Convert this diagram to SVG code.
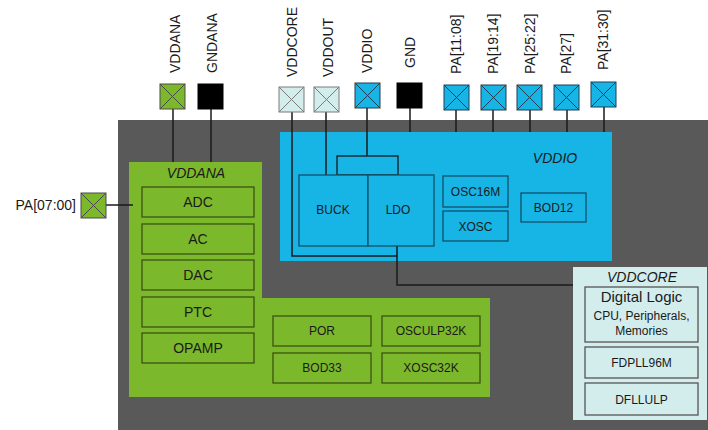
<svg xmlns="http://www.w3.org/2000/svg" width="708" height="430" viewBox="0 0 708 430">
<style>
text{font-family:"Liberation Sans",Arial,sans-serif;fill:#1a1a1a}
.lbl{font-size:14px}
.ital{font-size:14px;font-style:italic;text-anchor:middle}
.bx{font-size:12px;text-anchor:middle}
.bg{font-size:14px;text-anchor:middle}
.gbox{fill:#7cb82b;stroke:#3a5512;stroke-width:1.3}
.bbox{fill:#17b4e6;stroke:#12506b;stroke-width:1.3}
.cbox{fill:#d3ecec;stroke:#555;stroke-width:1.3}
.wire{fill:none;stroke:#1a1a1a;stroke-width:1.5}
</style>
<defs>
<g id="xg"><rect x="0" y="0" width="25" height="25"/><path d="M0,0L25,25M25,0L0,25" fill="none"/></g>
</defs>
<rect id="chip" x="118" y="120" width="590" height="310" fill="#595959"/>

<g id="vddana-domain">
<path d="M129,162H262V298H490V397H129Z" fill="#7cb82b"/>
<text class="ital" x="196" y="178">VDDANA</text>
</g>
<g id="vddio-domain">
<rect x="280" y="132" width="332" height="129" fill="#17b4e6"/>
<text class="ital" x="555" y="163">VDDIO</text>
</g>
<g id="vddcore-domain">
<rect x="573" y="267" width="134" height="153" fill="#d3ecec"/>
<text class="ital" x="642" y="282">VDDCORE</text>
</g>

<g id="connectors" class="wire">
<path d="M173,109V162"/>
<path d="M211,109V162"/>
<path d="M292,112V256H397"/>
<path d="M326,112V175"/>
<path d="M367,108V156"/>
<path d="M410,108V132"/>
<path d="M456,110V132"/>
<path d="M493,110V132"/>
<path d="M530,110V132"/>
<path d="M567,110V132"/>
<path d="M604,107V132"/>
<path d="M106,205H133"/>
<path d="M397,246V285H573"/>
</g>

<g id="adc"><rect class="gbox" x="142" y="187" width="112" height="30"/><text class="bg" x="198" y="207">ADC</text></g>
<g id="ac"><rect class="gbox" x="142" y="224" width="112" height="30"/><text class="bg" x="198" y="244">AC</text></g>
<g id="dac"><rect class="gbox" x="142" y="260" width="112" height="30"/><text class="bg" x="198" y="280">DAC</text></g>
<g id="ptc"><rect class="gbox" x="142" y="297" width="112" height="30"/><text class="bg" x="198" y="317">PTC</text></g>
<g id="opamp"><rect class="gbox" x="142" y="333" width="112" height="30"/><text class="bg" x="198" y="353">OPAMP</text></g>
<g id="por"><rect class="gbox" x="273" y="316" width="98" height="30"/><text class="bx" x="322" y="335">POR</text></g>
<g id="osculp32k"><rect class="gbox" x="382" y="316" width="98" height="30"/><text class="bx" x="431" y="335">OSCULP32K</text></g>
<g id="bod33"><rect class="gbox" x="273" y="353" width="98" height="30"/><text class="bx" x="322" y="372">BOD33</text></g>
<g id="xosc32k"><rect class="gbox" x="382" y="353" width="98" height="30"/><text class="bx" x="431" y="372">XOSC32K</text></g>

<g id="reg-link"><rect x="337" y="156" width="61" height="19" fill="none" stroke="#1a1a1a" stroke-width="1.3"/></g>
<g id="buck"><rect class="bbox" x="299" y="175" width="69" height="71"/><text class="bx" x="333" y="214">BUCK</text></g>
<g id="ldo"><rect class="bbox" x="368" y="175" width="66" height="71"/><text class="bx" x="398" y="214">LDO</text></g>
<g id="osc16m"><rect class="bbox" x="443" y="176" width="65" height="31"/><text class="bx" x="475.5" y="196">OSC16M</text></g>
<g id="xosc"><rect class="bbox" x="443" y="211" width="65" height="30"/><text class="bx" x="475.5" y="231">XOSC</text></g>
<g id="bod12"><rect class="bbox" x="521" y="193" width="65" height="29"/><text class="bx" x="553.5" y="212">BOD12</text></g>

<g id="digital-logic"><rect class="cbox" x="585" y="287" width="113" height="55"/>
<text x="641.5" y="302" style="font-size:15px;text-anchor:middle">Digital Logic</text>
<text class="bx" x="641.5" y="320">CPU, Peripherals,</text>
<text class="bx" x="641.5" y="335">Memories</text></g>
<g id="fdpll96m"><rect class="cbox" x="585" y="347" width="113" height="31"/><text class="bx" x="641.5" y="367">FDPLL96M</text></g>
<g id="dfllulp"><rect class="cbox" x="585" y="383" width="113" height="32"/><text class="bx" x="641.5" y="404">DFLLULP</text></g>

<g id="pad-vddana"><use href="#xg" x="160" y="84" fill="#7cb82b" stroke="#4a4a4a"/><text class="lbl" transform="translate(180,73) rotate(-90)">VDDANA</text></g>
<g id="pad-gndana"><use href="#xg" x="198" y="84" fill="#000" stroke="#000"/><text class="lbl" transform="translate(217,73) rotate(-90)">GNDANA</text></g>
<g id="pad-vddcore"><use href="#xg" x="279" y="87" fill="#d3ecec" stroke="#7a7a7a"/><text class="lbl" transform="translate(297,77) rotate(-90)">VDDCORE</text></g>
<g id="pad-vddout"><use href="#xg" x="314" y="87" fill="#d3ecec" stroke="#7a7a7a"/><text class="lbl" transform="translate(333,77) rotate(-90)">VDDOUT</text></g>
<g id="pad-vddio"><use href="#xg" x="355" y="83" fill="#17b4e6" stroke="#1f3f55"/><text class="lbl" transform="translate(372,73) rotate(-90)">VDDIO</text></g>
<g id="pad-gnd"><use href="#xg" x="397" y="83" fill="#000" stroke="#000"/><text class="lbl" transform="translate(415,68) rotate(-90)">GND</text></g>
<g id="pad-pa1108"><use href="#xg" x="444" y="85" fill="#17b4e6" stroke="#1f3f55"/><text class="lbl" transform="translate(461,74) rotate(-90)">PA[11:08]</text></g>
<g id="pad-pa1914"><use href="#xg" x="481" y="85" fill="#17b4e6" stroke="#1f3f55"/><text class="lbl" transform="translate(498,74) rotate(-90)">PA[19:14]</text></g>
<g id="pad-pa2522"><use href="#xg" x="517" y="85" fill="#17b4e6" stroke="#1f3f55"/><text class="lbl" transform="translate(535,74) rotate(-90)">PA[25:22]</text></g>
<g id="pad-pa27"><use href="#xg" x="554" y="85" fill="#17b4e6" stroke="#1f3f55"/><text class="lbl" transform="translate(571,74) rotate(-90)">PA[27]</text></g>
<g id="pad-pa3130"><use href="#xg" x="591" y="82" fill="#17b4e6" stroke="#1f3f55"/><text class="lbl" transform="translate(608,70) rotate(-90)">PA[31:30]</text></g>
<g id="pad-pa0700"><use href="#xg" x="81" y="193" fill="#7cb82b" stroke="#4a4a4a"/><text class="lbl" x="76" y="210" text-anchor="end">PA[07:00]</text></g>
</svg>
